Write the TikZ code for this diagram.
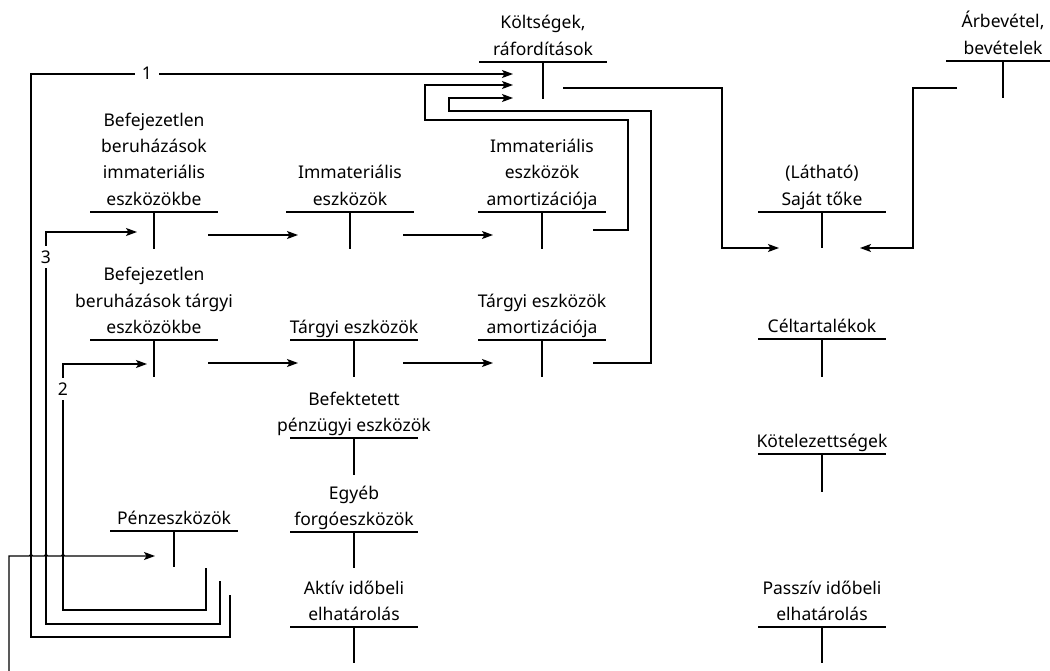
\documentclass[tikz,border=0pt]{standalone}
\usepackage{fontspec}
\setmainfont{Noto Sans}
\usetikzlibrary{arrows.meta}
\tikzset{
  x=1pt,y=-1pt,
  tline/.style={line width=1.2pt},
  conn/.style={line width=1.2pt},
  arr/.style={conn,-{Stealth[length=11pt,width=8pt,inset=2.5pt]}},
  acct/.style={font=\fontsize{17.5}{26.3}\selectfont,align=center,inner sep=0pt,anchor=south},
  lbl/.style={font=\fontsize{17.5}{20}\selectfont,fill=white,inner xsep=3pt,inner ysep=5pt},
}
\newcommand\tacct[6]{%
  \node[acct] (#1) at (#2,#3-0.5) {#6\rule[-6pt]{0pt}{6pt}};
  \draw[tline] (#2-#4,#3) -- (#2+#4,#3);
  \draw[tline] (#2,#3) -- (#2,#3+#5);}
\begin{document}
\begin{tikzpicture}
\useasboundingbox (0,0) rectangle (1050,671);
% T-accounts
\tacct{kolt}{543}{62}{64}{37}{Költségek,\\ráfordítások}
\node[acct] (arbev) at (1003,60.5) {Árbevétel,\\bevételek\rule[-6pt]{0pt}{6pt}};
\draw[tline] (946,61) -- (1050,61);
\draw[tline] (1003,61) -- (1003,98);
\tacct{bimm}{154}{212}{64}{37}{Befejezetlen\\beruházások\\immateriális\\eszközökbe}
\tacct{imm}{350}{212}{64}{37}{Immateriális\\eszközök}
\tacct{immam}{542}{212}{64}{37}{Immateriális\\eszközök\\amortizációja}
\tacct{sajat}{822}{212}{64}{36}{(Látható)\\Saját tőke}
\tacct{btar}{154}{340}{64}{37}{Befejezetlen\\beruházások tárgyi\\eszközökbe}
\tacct{tar}{354}{340}{64}{37}{Tárgyi eszközök}
\tacct{taram}{542}{340}{64}{37}{Tárgyi eszközök\\amortizációja}
\tacct{celt}{822}{339}{64}{38}{Céltartalékok}
\tacct{befp}{354}{438}{64}{37}{Befektetett\\pénzügyi eszközök}
\tacct{kot}{822}{454}{64}{38}{Kötelezettségek}
\tacct{penz}{174}{531}{64}{36}{Pénzeszközök}
\tacct{egyeb}{354}{532}{64}{36}{Egyéb\\forgóeszközök}
\tacct{aktiv}{354}{627}{64}{36}{Aktív időbeli\\elhatárolás}
\tacct{passz}{822}{627}{64}{36}{Passzív időbeli\\elhatárolás}
% connector end points
\coordinate (k-in1) at (513,74);
\coordinate (k-in2) at (513,85);
\coordinate (k-in3) at (513,98);
\coordinate (k-out) at (563,88);
\coordinate (a-out) at (957,88);
\coordinate (s-inL) at (779,248);
\coordinate (s-inR) at (860,248);
\coordinate (bimm-in) at (137,232);
\coordinate (bimm-out) at (208,235);
\coordinate (imm-in) at (298,235);
\coordinate (imm-out) at (403,235);
\coordinate (immam-in) at (493,235);
\coordinate (immam-out) at (593,230);
\coordinate (btar-in) at (147,364);
\coordinate (btar-out) at (208,363);
\coordinate (tar-in) at (298,363);
\coordinate (tar-out) at (403,363);
\coordinate (taram-in) at (493,363);
\coordinate (taram-out) at (593,363);
\coordinate (penz-in) at (155,556);
\coordinate (penz-o1) at (230,595);
\coordinate (penz-o3) at (220,581);
\coordinate (penz-o2) at (206,568);
\coordinate (start) at (9,671);
% flows
\draw[arr] (bimm-out) -- (imm-in);
\draw[arr] (imm-out) -- (immam-in);
\draw[arr] (btar-out) -- (tar-in);
\draw[arr] (tar-out) -- (taram-in);
\draw[arr] (immam-out) -| (628,120) -| (425,85) -- (k-in2);
\draw[arr] (taram-out) -| (651,111) -| (449,98) -- (k-in3);
\draw[arr] (k-out) -| (722,248) -- (s-inL);
\draw[arr] (a-out) -| (913,248) -- (s-inR);
\draw[arr] (penz-o1) |- (31,637) |- (k-in1);
\draw[arr] (penz-o3) |- (46,624) |- (bimm-in);
\draw[arr] (penz-o2) |- (63,610) |- (btar-in);
\draw[arr] (start) -- (9,556) -- (29.2,556) arc[start angle=180,end angle=360,radius=1.8]
  -- (44.2,556) arc[start angle=180,end angle=360,radius=1.8]
  -- (61.2,556) arc[start angle=180,end angle=360,radius=1.8] -- (penz-in);
% labels
\node[lbl,inner xsep=7pt,inner ysep=1pt] (l1) at (147,73) {1};
\node[lbl] (l3) at (46,257) {3};
\node[lbl] (l2) at (63,389) {2};
\end{tikzpicture}
\end{document}
